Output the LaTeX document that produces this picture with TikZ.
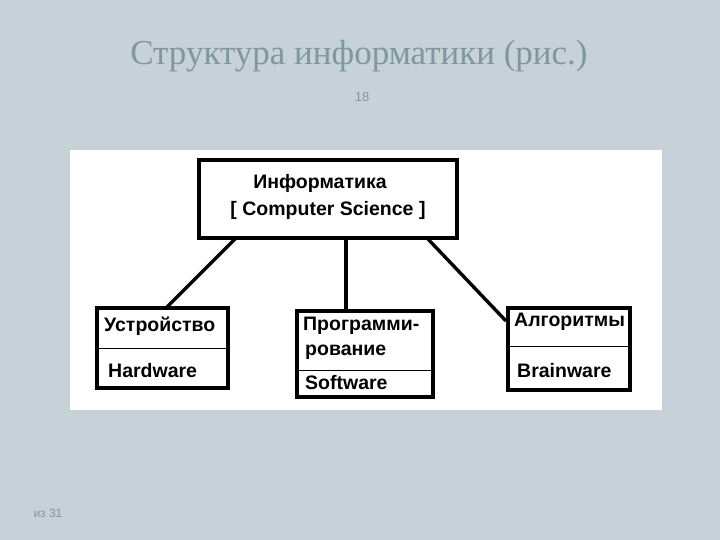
\documentclass[tikz,border=0pt]{standalone}
\usepackage{fontspec}
\setmainfont{Liberation Serif}
\newfontfamily\dsans{Liberation Sans}
\definecolor{bgc}{HTML}{C7D1D8}
\definecolor{ttc}{HTML}{7E989E}
\begin{document}
\begin{tikzpicture}[x=1pt,y=-1pt,
  box/.style={draw=black,line width=3.2pt},
  dv/.style={draw=black,line width=1pt},
  conn/.style={draw=black,line width=3.4pt},
  lab/.style={font=\dsans\bfseries\fontsize{19.5}{21}\selectfont,inner sep=0pt,anchor=west}]
\fill[bgc] (0,0) rectangle (720,540);
\useasboundingbox (0,0) rectangle (720,540);
\fill[white] (70,150) rectangle (662,410);
\node[ttc,font=\fontsize{35}{38}\selectfont] (title) at (359,56) {Структура информатики (рис.)};
\node[ttc,font=\dsans\fontsize{13}{15}\selectfont] (pg) at (362,97) {18};
\node[ttc,font=\dsans\fontsize{12}{14}\selectfont,anchor=west] (tot) at (30,513) {из 31};
\draw[box] (199,160) rectangle (457,238);
\coordinate (tl) at (236,238); \coordinate (tm) at (346,238); \coordinate (tr) at (427,238);
\node[lab,anchor=center] (inf) at (320,183) {Информатика};
\node[lab,anchor=center] (cs) at (328,210) {[ Computer Science ]};
\draw[box] (97,308) rectangle (228,388);
\draw[dv] (97,348) -- (228,348);
\coordinate (lt) at (166,308);
\node[lab] (ustr) at (104,326) {Устройство};
\node[lab] (hw) at (108,371) {Hardware};
\draw[box] (297,311) rectangle (433,397);
\draw[dv] (297,370) -- (433,370);
\coordinate (mt) at (346,311);
\node[lab] (prog) at (303,326) {Программи-};
\node[lab] (rov) at (305,352) {рование};
\node[lab] (sw) at (305,383) {Software};
\draw[box] (508,308) rectangle (630,390);
\draw[dv] (508,346) -- (630,346);
\coordinate (rt) at (506,321);
\node[lab] (alg) at (514,322) {Алгоритмы};
\node[lab] (bw) at (517,371) {Brainware};
\draw[conn] (tl) -- (lt);
\draw[conn] (tm) -- (mt);
\draw[conn] (tr) -- (rt);
\end{tikzpicture}
\end{document}
